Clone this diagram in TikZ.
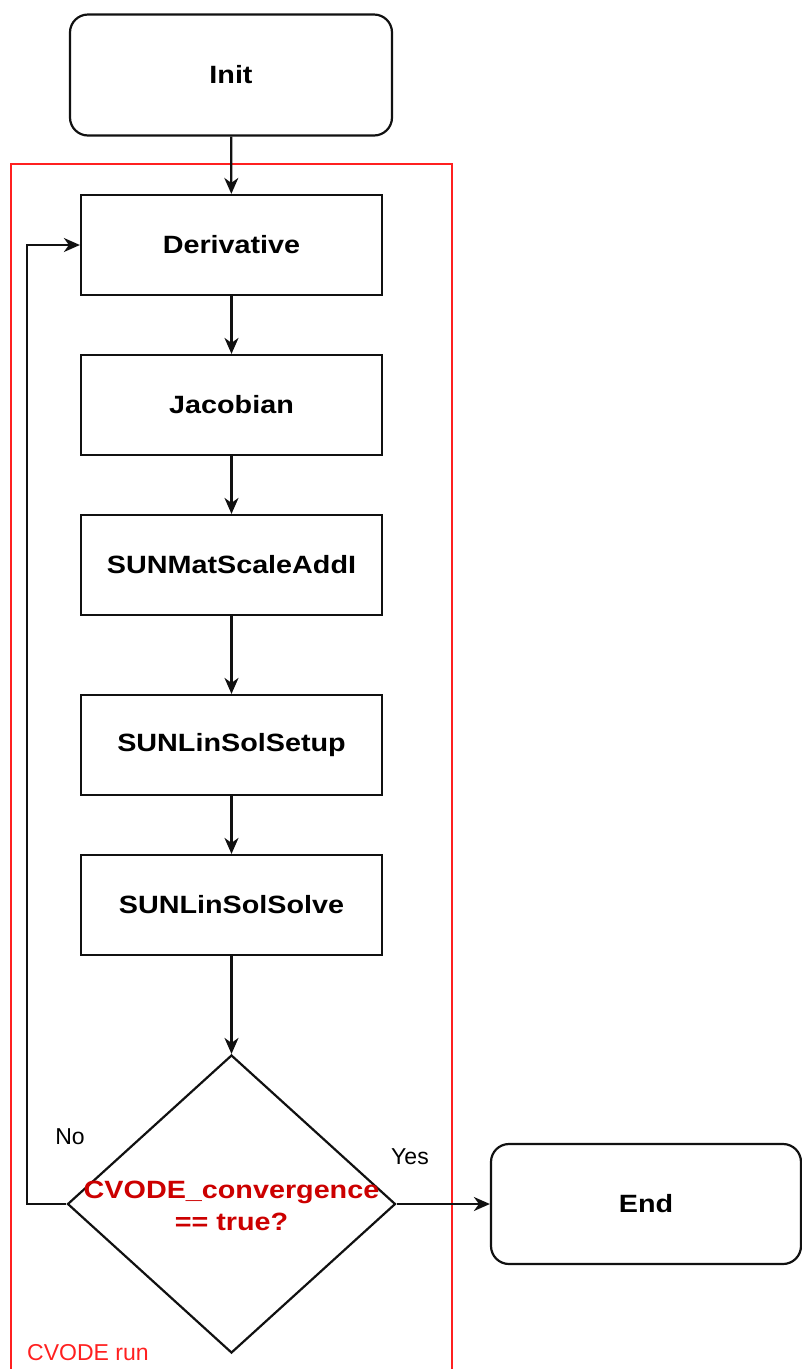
\documentclass[tikz,border=0pt]{standalone}
\usepackage{fontspec}
\setmainfont{Liberation Sans}
\newfontfamily\boldwide{Liberation Sans}[FakeStretch=1.15,UprightFont=*-Bold]
\usetikzlibrary{shapes.geometric,arrows.meta}
\definecolor{framered}{HTML}{FF2020}
\definecolor{condred}{HTML}{CC0000}
\definecolor{edge}{HTML}{111111}
\begin{document}
\begin{tikzpicture}[x=1pt,y=-1pt,
  every node/.style={font=\fontsize{23}{27}\selectfont},
  stepbox/.style={draw=edge,line width=2.2pt,minimum width=301pt,minimum height=100pt,
    inner sep=0pt,font=\boldwide\fontsize{25}{28}\selectfont},
  terminal/.style={stepbox,rounded corners=18pt},
  flow/.style={draw=edge,line width=2.2pt,-{Stealth[length=16pt,width=14pt,inset=5pt]}},
  ]
\useasboundingbox (0,0) rectangle (802,1369);

% loop frame
\draw[framered,line width=1.6pt] (11,1375) -- (11,164) -- (452,164) -- (452,1375);
\node[anchor=west,text=framered,inner sep=0pt] (runlbl) at (27,1353) {CVODE run};

% terminals
\node[terminal,minimum width=322pt,minimum height=121pt] (init) at (231,75) {Init};
\node[terminal,minimum width=310pt,minimum height=120pt] (end) at (646,1204) {End};

% solver steps
\node[stepbox] (deriv) at (231.5,245) {Derivative};
\node[stepbox] (jac)   at (231.5,405) {Jacobian};
\node[stepbox] (scale) at (231.5,565) {SUNMatScaleAddI};
\node[stepbox] (setup) at (231.5,745) {SUNLinSolSetup};
\node[stepbox] (solve) at (231.5,905) {SUNLinSolSolve};

% convergence test
\node[draw=edge,line width=2.2pt,diamond,minimum width=328pt,minimum height=298pt,inner sep=0pt] (test) at (231.5,1204) {};
\node[text=condred,align=center,font=\boldwide\fontsize{25}{32}\selectfont] (testlbl) at (231.5,1206) {CVODE\_convergence\\== true?};

% connectors
\draw[flow] (init) -- (deriv);
\draw[flow] (deriv) -- (jac);
\draw[flow] (jac) -- (scale);
\draw[flow] (scale) -- (setup);
\draw[flow] (setup) -- (solve);
\draw[flow] (solve) -- (test.north);
\draw[flow] (test.east) -- (end.west);
\draw[flow] (test.west) -- (27,1204) -- (27,245) -- (deriv.west);

% branch labels
\node (no)  at (70,1137) {No};
\node (yes) at (410,1157) {Yes};
\end{tikzpicture}
\end{document}
